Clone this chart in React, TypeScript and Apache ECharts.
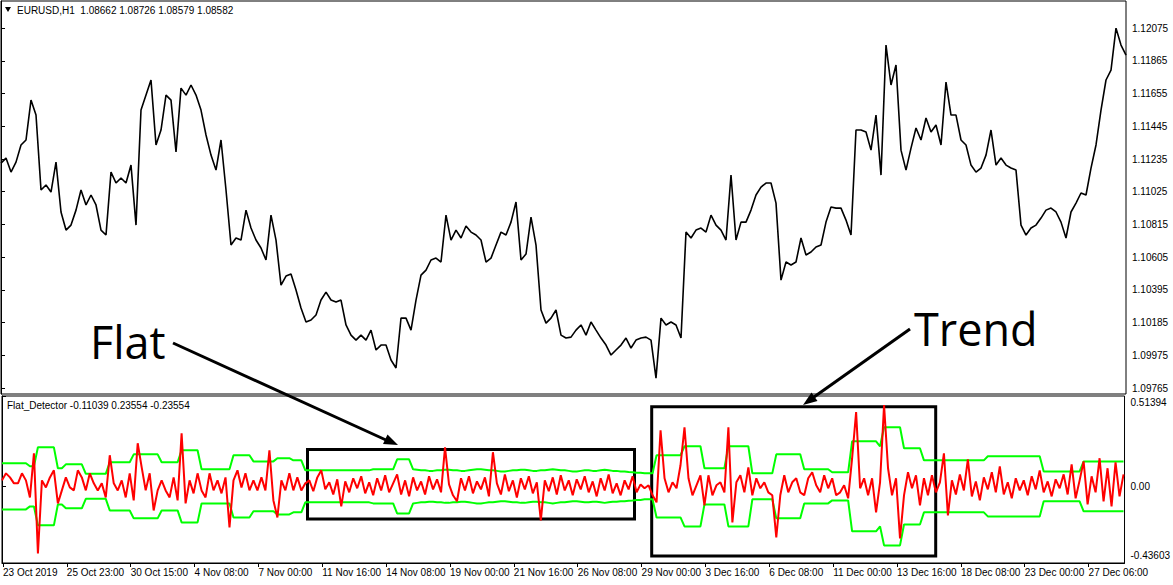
import React, { useEffect, useRef } from "react";
import * as echarts from "echarts";

// ---- axis / label data ----
const BAR_MAX = 1125; // last bar index visible
const PRICE_STEP = 5; // bars between price samples
const IND_STEP = 4; // bars between indicator samples
const LABEL_EVERY = 64; // bars between time labels
const LABEL_OFFSET = 1;

const timeLabels = [
  "23 Oct 2019", "25 Oct 23:00", "30 Oct 15:00", "4 Nov 08:00", "7 Nov 00:00",
  "11 Nov 16:00", "14 Nov 08:00", "19 Nov 00:00", "21 Nov 16:00", "26 Nov 08:00",
  "29 Nov 00:00", "3 Dec 16:00", "6 Dec 08:00", "11 Dec 00:00", "13 Dec 16:00",
  "18 Dec 08:00", "23 Dec 00:00", "27 Dec 06:00",
];

const priceTicks = [
  1.09765, 1.09975, 1.10185, 1.10395, 1.10605, 1.10815,
  1.11025, 1.11235, 1.11445, 1.11655, 1.11865, 1.12075,
];
const PRICE_MIN = 1.09727;
const PRICE_MAX = 1.12249;

const indicatorTicks = [-0.43603, 0, 0.51394];
const IND_MIN = -0.43603;
const IND_MAX = 0.51394;

// ---- EURUSD H1 close (sampled every PRICE_STEP bars) ----
const closePrices = [
  1.11209, 1.11241, 1.11151, 1.11215, 1.11325, 1.11357, 1.11613, 1.11517, 1.11036, 1.11068,
  1.11023, 1.11215, 1.10895, 1.10779, 1.10811, 1.10907, 1.11036, 1.10940, 1.11004, 1.10940,
  1.10779, 1.10747, 1.11151, 1.11081, 1.11113, 1.11081, 1.11196, 1.10811, 1.11549, 1.11645,
  1.11742, 1.11325, 1.11421, 1.11645, 1.11613, 1.11280, 1.11690, 1.11645, 1.11710, 1.11645,
  1.11549, 1.11389, 1.11260, 1.11164, 1.11357, 1.11036, 1.10683, 1.10728, 1.10715, 1.10907,
  1.10792, 1.10715, 1.10664, 1.10587, 1.10875, 1.10715, 1.10426, 1.10484, 1.10497, 1.10394,
  1.10279, 1.10189, 1.10202, 1.10234, 1.10330, 1.10381, 1.10330, 1.10317, 1.10330, 1.10170,
  1.10105, 1.10073, 1.10105, 1.10073, 1.10137, 1.10009, 1.10041, 1.10041, 1.09945, 1.09894,
  1.10214, 1.10214, 1.10137, 1.10330, 1.10490, 1.10522, 1.10587, 1.10599, 1.10574, 1.10875,
  1.10715, 1.10779, 1.10728, 1.10805, 1.10766, 1.10747, 1.10715, 1.10574, 1.10599, 1.10683,
  1.10766, 1.10747, 1.10830, 1.10959, 1.10587, 1.10625, 1.10862, 1.10683, 1.10266, 1.10182,
  1.10214, 1.10266, 1.10105, 1.10086, 1.10092, 1.10137, 1.10170, 1.10105, 1.10189, 1.10137,
  1.10086, 1.10041, 1.09977, 1.10009, 1.10041, 1.10086, 1.10022, 1.10073, 1.10086, 1.10092,
  1.10073, 1.09829, 1.10214, 1.10170, 1.10189, 1.10170, 1.10086, 1.10766, 1.10728, 1.10779,
  1.10792, 1.10766, 1.10875, 1.10811, 1.10779, 1.10715, 1.11132, 1.10715, 1.10830, 1.10830,
  1.10907, 1.11004, 1.11055, 1.11081, 1.11081, 1.10952, 1.10458, 1.10574, 1.10555, 1.10574,
  1.10728, 1.10619, 1.10638, 1.10670, 1.10683, 1.10830, 1.10927, 1.10920, 1.10920, 1.10843,
  1.10747, 1.11421, 1.11421, 1.11408, 1.11292, 1.11517, 1.11132, 1.11966, 1.11710, 1.11838,
  1.11292, 1.11164, 1.11305, 1.11434, 1.11357, 1.11498, 1.11408, 1.11453, 1.11325, 1.11729,
  1.11517, 1.11517, 1.11357, 1.11325, 1.11196, 1.11151, 1.11177, 1.11260, 1.11421, 1.11196,
  1.11241, 1.11196, 1.11177, 1.11164, 1.10811, 1.10747, 1.10792, 1.10811, 1.10856, 1.10907,
  1.10920, 1.10895, 1.10830, 1.10728, 1.10895, 1.10952, 1.11017, 1.11004, 1.11177, 1.11325,
  1.11549, 1.11742, 1.11806, 1.12075, 1.11966, 1.11902,
];

// ---- Flat_Detector main line (sampled every IND_STEP bars) ----
const flatValues = [
  0.034, 0.074, 0.051, 0.017, 0.017, 0.074, 0.034, -0.063, 0.188, -0.382,
  0.034, -0.006, 0.051, 0.091, -0.097, -0.023, 0.051, -0.006, -0.023, 0.091,
  0.051, -0.023, 0.074, 0.017, -0.023, 0.017, -0.063, 0.177, 0.017, -0.023,
  0.034, -0.063, 0.074, -0.080, 0.245, 0.108, -0.023, 0.074, -0.137, -0.023,
  0.034, -0.023, -0.063, 0.051, -0.080, 0.302, -0.097, 0.034, -0.040, 0.074,
  -0.023, -0.063, 0.074, -0.023, 0.034, -0.040, 0.051, -0.234, 0.034, 0.091,
  -0.006, 0.074, -0.023, 0.034, -0.023, 0.051, -0.023, 0.205, -0.080, -0.177,
  0.034, -0.023, 0.074, -0.023, 0.051, -0.023, 0.017, 0.034, -0.028, 0.051,
  0.091, -0.017, 0.023, -0.046, 0.040, -0.114, 0.028, -0.034, 0.046, -0.011,
  0.057, -0.040, 0.023, -0.051, 0.046, -0.023, 0.063, -0.034, 0.017, 0.068,
  -0.046, 0.034, -0.057, 0.051, -0.023, 0.028, -0.046, 0.057, -0.017, 0.040,
  -0.034, 0.222, 0.011, -0.051, -0.085, 0.046, -0.023, 0.057, -0.040, 0.028,
  -0.017, 0.051, -0.057, 0.194, 0.017, -0.046, 0.068, -0.028, 0.034, -0.063,
  0.046, -0.017, 0.057, -0.040, 0.023, -0.194, 0.034, -0.028, 0.051, -0.046,
  0.063, -0.023, 0.034, -0.051, 0.040, -0.017, 0.057, -0.034, 0.028, -0.057,
  0.046, -0.023, 0.068, -0.040, 0.017, -0.051, 0.034, -0.017, 0.057, -0.034,
  0.011, -0.011, 0.006, -0.051, -0.091, 0.319, 0.046, -0.034, 0.023, -0.011,
  0.120, 0.336, 0.046, -0.051, 0.006, 0.063, -0.108, 0.063, -0.051, 0.006,
  0.023, -0.034, 0.336, -0.205, 0.023, 0.063, -0.034, 0.108, -0.051, 0.046,
  -0.011, 0.023, -0.034, -0.051, -0.291, -0.051, 0.063, -0.034, 0.023, 0.046,
  -0.034, -0.051, 0.046, 0.080, 0.006, -0.034, 0.063, -0.011, 0.046, -0.051,
  -0.034, 0.006, -0.068, 0.160, 0.422, -0.011, 0.046, -0.051, 0.046, -0.148,
  0.023, 0.462, 0.103, -0.051, 0.046, -0.296, -0.051, 0.080, -0.011, 0.063,
  -0.108, 0.046, -0.051, 0.063, -0.034, 0.023, 0.188, -0.165, 0.034, -0.046,
  0.068, -0.023, 0.154, -0.057, 0.028, -0.080, 0.051, -0.017, 0.080, -0.034,
  0.114, -0.046, 0.023, -0.068, 0.046, -0.023, 0.034, -0.051, 0.057, -0.017,
  0.091, -0.034, 0.028, -0.057, 0.040, -0.011, 0.068, -0.046, 0.125, -0.068,
  0.034, 0.142, -0.103, 0.057, -0.034, 0.160, -0.085, 0.103, -0.114, 0.137,
  -0.057, 0.068,
];

// ---- Flat_Detector band half-width (upper = +band, lower = -band) ----
const bandValues = [
  0.131, 0.131, 0.131, 0.131, 0.131, 0.131, 0.131, 0.114, 0.114, 0.222,
  0.222, 0.222, 0.222, 0.222, 0.103, 0.103, 0.125, 0.125, 0.125, 0.125,
  0.125, 0.071, 0.071, 0.071, 0.071, 0.071, 0.071, 0.137, 0.137, 0.137,
  0.137, 0.137, 0.137, 0.182, 0.182, 0.182, 0.182, 0.182, 0.182, 0.182,
  0.137, 0.137, 0.137, 0.137, 0.137, 0.205, 0.205, 0.205, 0.205, 0.205,
  0.097, 0.097, 0.097, 0.097, 0.097, 0.097, 0.097, 0.097, 0.177, 0.177,
  0.177, 0.177, 0.177, 0.142, 0.142, 0.142, 0.142, 0.142, 0.142, 0.160,
  0.160, 0.160, 0.160, 0.148, 0.148, 0.148, 0.091, 0.091, 0.091, 0.091,
  0.091, 0.091, 0.091, 0.091, 0.091, 0.091, 0.091, 0.091, 0.091, 0.091,
  0.091, 0.091, 0.091, 0.097, 0.097, 0.097, 0.097, 0.097, 0.097, 0.154,
  0.154, 0.154, 0.154, 0.097, 0.094, 0.091, 0.091, 0.088, 0.088, 0.091,
  0.091, 0.094, 0.094, 0.091, 0.091, 0.088, 0.088, 0.091, 0.094, 0.097,
  0.097, 0.094, 0.091, 0.091, 0.088, 0.085, 0.085, 0.088, 0.091, 0.091,
  0.094, 0.094, 0.091, 0.088, 0.088, 0.091, 0.091, 0.094, 0.097, 0.094,
  0.091, 0.091, 0.088, 0.085, 0.085, 0.088, 0.091, 0.091, 0.088, 0.088,
  0.091, 0.094, 0.091, 0.088, 0.088, 0.085, 0.085, 0.082, 0.080, 0.077,
  0.077, 0.074, 0.074, 0.074, 0.177, 0.177, 0.177, 0.177, 0.177, 0.177,
  0.177, 0.228, 0.228, 0.228, 0.228, 0.228, 0.103, 0.103, 0.103, 0.103,
  0.103, 0.103, 0.228, 0.228, 0.228, 0.228, 0.228, 0.228, 0.074, 0.074,
  0.074, 0.074, 0.074, 0.074, 0.182, 0.182, 0.182, 0.182, 0.182, 0.182,
  0.182, 0.097, 0.097, 0.097, 0.097, 0.097, 0.097, 0.097, 0.080, 0.080,
  0.080, 0.080, 0.080, 0.256, 0.256, 0.256, 0.256, 0.256, 0.256, 0.256,
  0.228, 0.336, 0.336, 0.336, 0.336, 0.336, 0.217, 0.217, 0.217, 0.217,
  0.217, 0.148, 0.148, 0.148, 0.148, 0.148, 0.148, 0.148, 0.148, 0.148,
  0.148, 0.148, 0.148, 0.148, 0.148, 0.148, 0.148, 0.171, 0.171, 0.171,
  0.171, 0.171, 0.171, 0.171, 0.171, 0.171, 0.171, 0.171, 0.171, 0.171,
  0.171, 0.085, 0.085, 0.085, 0.085, 0.085, 0.085, 0.085, 0.085, 0.085,
  0.085, 0.142, 0.142, 0.142, 0.142, 0.142, 0.142, 0.142, 0.142, 0.142,
  0.142, 0.142,
];

const FONT = "Liberation Sans, Arial, sans-serif";
const BIG_FONT = "Open Sans, Noto Sans, sans-serif";

export default function App() {
  const ref = useRef<HTMLDivElement>(null);

  useEffect(() => {
    document.body.style.margin = "0";
    if (!ref.current) return;
    const chart = echarts.init(ref.current, undefined, { renderer: "svg" });

    const labelBars = timeLabels.map((_, i) => LABEL_OFFSET + i * LABEL_EVERY);
    const priceData = closePrices.map((p, i) => [i * PRICE_STEP, p]);
    const flatData = flatValues.map((v, i) => [i * IND_STEP, v]);
    const upperData = bandValues.map((v, i) => [i * IND_STEP, v]);
    const lowerData = bandValues.map((v, i) => [i * IND_STEP, -v]);

    const option: any = {
      animation: false,
      backgroundColor: "#ffffff",
      textStyle: { fontFamily: FONT },
      grid: [
        { left: 1, top: 1, width: 1125, height: 393, show: true, borderColor: "#000", borderWidth: 1, backgroundColor: "#fff" },
        { left: 1, top: 396, width: 1125, height: 167, show: true, borderColor: "#000", borderWidth: 1, backgroundColor: "#fff" },
      ],
      xAxis: [
        { type: "value", gridIndex: 0, min: 0, max: BAR_MAX, show: false },
        {
          type: "value",
          gridIndex: 1,
          min: 0,
          max: BAR_MAX,
          axisLine: { show: true, onZero: false, lineStyle: { color: "#000", width: 1 } },
          splitLine: { show: false },
          axisTick: { show: true, customValues: labelBars, length: 4, lineStyle: { color: "#000" } },
          axisLabel: {
            customValues: labelBars,
            formatter: (v: number) => timeLabels[labelBars.indexOf(v)] ?? "",
            align: "left",
            margin: 4,
            fontSize: 10,
            color: "#000",
            fontFamily: FONT,
            showMinLabel: true,
            showMaxLabel: true,
          },
        },
      ],
      yAxis: [
        {
          type: "value",
          gridIndex: 0,
          position: "right",
          min: PRICE_MIN,
          max: PRICE_MAX,
          scale: true,
          axisLine: { show: true, lineStyle: { color: "#000", width: 1 } },
          splitLine: { show: false },
          axisTick: { show: true, customValues: priceTicks, length: 4, lineStyle: { color: "#000" } },
          axisLabel: {
            customValues: priceTicks,
            formatter: (v: number) => v.toFixed(5),
            margin: 6,
            fontSize: 10,
            color: "#000",
            fontFamily: FONT,
            showMinLabel: true,
            showMaxLabel: true,
          },
        },
        {
          type: "value",
          gridIndex: 1,
          position: "right",
          min: IND_MIN,
          max: IND_MAX,
          axisLine: { show: true, lineStyle: { color: "#000", width: 1 } },
          splitLine: { show: false },
          axisTick: { show: true, customValues: indicatorTicks, length: 4, lineStyle: { color: "#000" } },
          axisLabel: {
            customValues: indicatorTicks,
            formatter: (v: number) =>
              v === 0 ? "0.00" : v > 0 ? "{t|" + v.toFixed(5) + "}" : "{b|" + v.toFixed(5) + "}",
            margin: 6,
            fontSize: 10,
            color: "#000",
            fontFamily: FONT,
            showMinLabel: true,
            showMaxLabel: true,
            rich: {
              t: { padding: [13, 0, 0, 0], fontSize: 10, color: "#000", fontFamily: FONT },
              b: { padding: [0, 0, 15, 0], fontSize: 10, color: "#000", fontFamily: FONT },
            },
          },
        },
      ],
      series: [
        {
          name: "EURUSD,H1",
          type: "line",
          xAxisIndex: 0,
          yAxisIndex: 0,
          data: priceData,
          showSymbol: false,
          silent: true,
          lineStyle: { color: "#000", width: 1.6 },
        },
        {
          name: "Upper",
          type: "line",
          xAxisIndex: 1,
          yAxisIndex: 1,
          data: upperData,
          showSymbol: false,
          silent: true,
          lineStyle: { color: "#00ff00", width: 2 },
        },
        {
          name: "Lower",
          type: "line",
          xAxisIndex: 1,
          yAxisIndex: 1,
          data: lowerData,
          showSymbol: false,
          silent: true,
          lineStyle: { color: "#00ff00", width: 2 },
        },
        {
          name: "Flat_Detector",
          type: "line",
          xAxisIndex: 1,
          yAxisIndex: 1,
          data: flatData,
          showSymbol: false,
          silent: true,
          lineStyle: { color: "#ff0000", width: 2 },
        },
      ],
      graphic: [
        { type: "polygon", shape: { points: [[5, 7], [11, 7], [8, 12]] }, style: { fill: "#000" } },
        {
          type: "text",
          x: 17,
          y: 10,
          style: { text: "EURUSD,H1  1.08662 1.08726 1.08579 1.08582", fontSize: 10, fontFamily: FONT, fill: "#000", verticalAlign: "middle" },
        },
        {
          type: "text",
          x: 7,
          y: 405,
          style: { text: "Flat_Detector -0.11039 0.23554 -0.23554", fontSize: 10, fontFamily: FONT, fill: "#000", verticalAlign: "middle" },
        },
        {
          type: "text",
          x: 90,
          y: 341,
          style: { text: "Flat", fontSize: 45, fontFamily: BIG_FONT, fill: "#000", verticalAlign: "middle" },
        },
        {
          type: "text",
          x: 914,
          y: 328,
          style: { text: "Trend", fontSize: 45, fontFamily: BIG_FONT, fill: "#000", verticalAlign: "middle" },
        },
        {
          type: "rect",
          shape: { x: 307.5, y: 449.5, width: 327, height: 69.5 },
          style: { fill: "none", stroke: "#000", lineWidth: 3 },
        },
        {
          type: "rect",
          shape: { x: 651.7, y: 406.7, width: 284, height: 149.3 },
          style: { fill: "none", stroke: "#000", lineWidth: 3 },
        },
        {
          type: "line",
          shape: { x1: 173, y1: 343, x2: 386, y2: 440 },
          style: { stroke: "#000", lineWidth: 3 },
        },
        {
          type: "polygon",
          shape: { points: [[398, 445], [383, 444], [387.5, 434.5]] },
          style: { fill: "#000" },
        },
        {
          type: "line",
          shape: { x1: 910, y1: 329, x2: 814, y2: 397 },
          style: { stroke: "#000", lineWidth: 3 },
        },
        {
          type: "polygon",
          shape: { points: [[803, 405], [811.5, 392.5], [817.5, 401]] },
          style: { fill: "#000" },
        },
      ],
    };

    chart.setOption(option);
    return () => chart.dispose();
  }, []);

  return (
    <div
      ref={ref}
      style={{ position: "absolute", left: 0, top: 0, width: 1173, height: 585, background: "#fff" }}
    />
  );
}
